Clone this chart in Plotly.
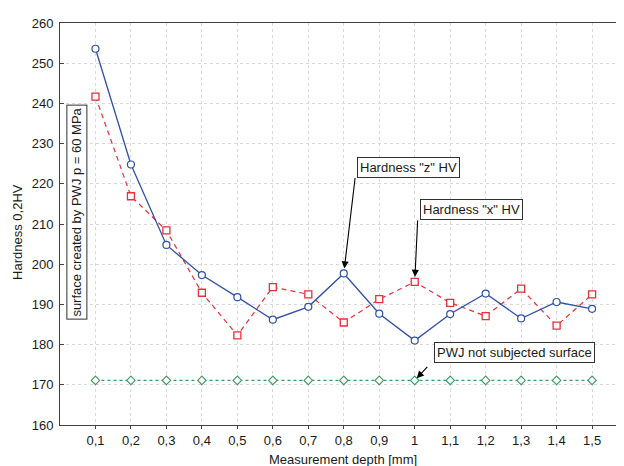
import plotly.graph_objects as go

# ---- data ----
depth = [0.1, 0.2, 0.3, 0.4, 0.5, 0.6, 0.7, 0.8, 0.9, 1.0, 1.1, 1.2, 1.3, 1.4, 1.5]
depth_labels = ["0,1", "0,2", "0,3", "0,4", "0,5", "0,6", "0,7", "0,8", "0,9", "1",
                "1,1", "1,2", "1,3", "1,4", "1,5"]
hardness_z = [253.6, 224.8, 204.8, 197.3, 191.8, 186.2, 189.4, 197.7, 187.7, 181.0,
              187.6, 192.7, 186.5, 190.6, 188.9]
hardness_x = [241.7, 216.9, 208.4, 192.9, 182.3, 194.3, 192.5, 185.5, 191.3, 195.6,
              190.4, 187.1, 193.9, 184.7, 192.5]
hardness_base = [171.1] * 15
y_ticks = [160, 170, 180, 190, 200, 210, 220, 230, 240, 250, 260]

# ---- layout geometry ----
# the page body adds an 8 px margin, so the figure is shifted accordingly
OFF = 8
W, H = 624, 466
PLOT_L, PLOT_T, PW, PH = 60, 19, 564, 406      # plot area in page pixels
L = PLOT_L - OFF
T = PLOT_T - OFF
R = W - L - PW
B = H - T - PH


def paper(px, py):
    """page pixel -> paper coordinates"""
    return (px - PLOT_L) / PW, (PLOT_T + PH - py) / PH


FONT = "Liberation Sans, Arial, sans-serif"
TXT = "#1a1a1a"
BLUE = "#3050a8"
RED = "#e8303c"
GREEN = "#3a9a62"

fig = go.Figure()

fig.add_trace(go.Scatter(
    x=depth, y=hardness_base, mode="lines+markers",
    line=dict(color=GREEN, width=1.2, dash="dot"),
    marker=dict(symbol="diamond", size=6.5, color="white", line=dict(color=GREEN, width=1.1)),
    showlegend=False))
fig.add_trace(go.Scatter(
    x=depth, y=hardness_x, mode="lines+markers",
    line=dict(color=RED, width=1.2, dash="5px,4px"),
    marker=dict(symbol="square", size=7, color="white", line=dict(color=RED, width=1.3)),
    showlegend=False))
fig.add_trace(go.Scatter(
    x=depth, y=hardness_z, mode="lines+markers",
    line=dict(color=BLUE, width=1.3),
    marker=dict(symbol="circle", size=7, color="white", line=dict(color=BLUE, width=1.2)),
    showlegend=False))

fig.update_layout(
    width=W, height=H,
    margin=dict(l=L, r=R, t=T, b=B, pad=0),
    paper_bgcolor="white", plot_bgcolor="white",
    font=dict(family=FONT, size=13, color=TXT),
    xaxis=dict(
        range=[0, 1.59], tickvals=depth, ticktext=depth_labels,
        showgrid=True, gridcolor="#d9d9d9", griddash="dot", gridwidth=1,
        showline=True, linecolor="#404040", linewidth=1, mirror=True,
        ticks="outside", ticklen=3, tickcolor="#404040",
        zeroline=False, tickfont=dict(size=13, color=TXT)),
    xaxis2=dict(
        overlaying="x", side="top", anchor="y",
        range=[0, 1.59], tickvals=depth, showticklabels=False,
        ticks="inside", ticklen=4, tickcolor="#404040",
        showgrid=False, showline=False, zeroline=False),
    yaxis=dict(
        range=[160, 260], tickvals=y_ticks,
        showgrid=True, gridcolor="#d9d9d9", griddash="dot", gridwidth=1,
        showline=True, linecolor="#404040", linewidth=1,
        ticks="inside", ticklen=4, tickcolor="#404040",
        zeroline=False, tickfont=dict(size=13, color=TXT), ticklabelstandoff=3),
)

# axis titles
px_, py_ = paper(18, 230)
fig.add_annotation(text="Hardness 0,2HV", xref="paper", yref="paper", x=px_, y=py_,
                   textangle=-90, showarrow=False, font=dict(size=13, color=TXT),
                   xanchor="center", yanchor="middle")
px_, py_ = paper(343, 460)
fig.add_annotation(text="Measurement depth [mm]", xref="paper", yref="paper", x=px_, y=py_,
                   showarrow=False, font=dict(size=13, color=TXT),
                   xanchor="center", yanchor="middle")

# boxed labels
box = dict(showarrow=False, bordercolor="#303030", borderwidth=1, borderpad=2,
           bgcolor="white", font=dict(size=13, color=TXT),
           xanchor="center", yanchor="middle", xref="paper", yref="paper")
px_, py_ = paper(76.5, 210)
fig.add_annotation(text="surface created by PWJ p = 60 MPa", x=px_, y=py_, textangle=-90, **box)
px_, py_ = paper(408, 164.5)
fig.add_annotation(text='Hardness "z" HV', x=px_, y=py_, **box)
px_, py_ = paper(471, 207.3)
fig.add_annotation(text='Hardness "x" HV', x=px_, y=py_, **box)
px_, py_ = paper(514.7, 352)
fig.add_annotation(text="PWJ not subjected surface", x=px_, y=py_, **box)

# arrows
arrow = dict(text="", showarrow=True, arrowhead=2, arrowsize=1.3, arrowwidth=1.1,
             arrowcolor="black", xref="x", yref="y")
fig.add_annotation(x=depth[7], y=hardness_z[7], ax=11.5, ay=-97, standoff=5, **arrow)
fig.add_annotation(x=depth[9], y=hardness_x[9], ax=3, ay=-63, standoff=5, **arrow)
fig.add_annotation(x=depth[9], y=hardness_base[9], ax=14, ay=-15, standoff=3, **arrow)

fig.write_html("out.html")
